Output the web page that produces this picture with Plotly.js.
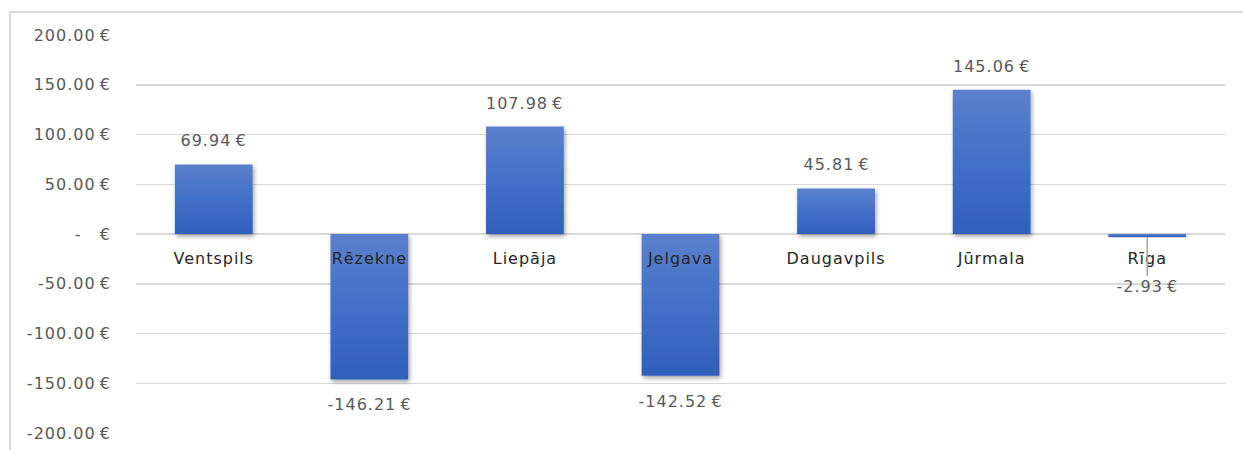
<!DOCTYPE html>
<html>
<head>
<meta charset="utf-8">
<script src="https://cdn.plot.ly/plotly-3.0.1.min.js"></script>
<style>
  html, body { margin: 0; padding: 0; background: #fff; }
  #frame { position: absolute; left: 9px; top: 11px; width: 1300px; height: 500px;
           border-left: 2px solid #d9d9d9; border-top: 2px solid #d9d9d9; }
  #chart { position: absolute; left: 0; top: 0; width: 1243px; height: 450px; }
  #chart svg text { letter-spacing: 1px; }
</style>
</head>
<body>
<div id="frame"></div>
<div id="chart"></div>
<script>
const cities = ["Ventspils", "Rēzekne", "Liepāja", "Jelgava", "Daugavpils", "Jūrmala", "Rīga"];
const values = [69.94, -146.21, 107.98, -142.52, 45.81, 145.06, -2.93];
const yTickVals = [200, 150, 100, 50, 0, -50, -100, -150, -200];
const yTickText = ["200.00\u2009€", "150.00\u2009€", "100.00\u2009€", "50.00\u2009€",
                   "-\u00a0\u00a0\u00a0€",
                   "-50.00\u2009€", "-100.00\u2009€", "-150.00\u2009€", "-200.00\u2009€"];

const FONT = "'DejaVu Sans', sans-serif";
const fmt = v => v.toFixed(2) + "\u2009€";

const annotations = cities.map((c, i) => {
  const v = values[i];
  const base = { x: c, y: v, xref: "x", yref: "y", text: fmt(v),
                 font: { family: FONT, size: 16, color: "#595959" } };
  if (Math.abs(v) < 10) {
    return Object.assign(base, { showarrow: true, arrowhead: 0, arrowwidth: 1.5,
      arrowcolor: "#a6a6a6", ax: 0, ay: 50, standoff: 0 });
  }
  if (v >= 0) return Object.assign(base, { showarrow: false, yanchor: "bottom", yshift: 12 });
  return Object.assign(base, { showarrow: false, yanchor: "top", yshift: -14 });
});

const trace = {
  type: "bar", x: cities, y: values,
  marker: { color: "#4270c6", line: { width: 0 } },
  hoverinfo: "skip"
};

const layout = {
  width: 1243, height: 450,
  margin: { l: 136, r: 18, t: 35, b: 17 },
  paper_bgcolor: "rgba(0,0,0,0)", plot_bgcolor: "rgba(0,0,0,0)",
  bargap: 0.5,
  showlegend: false,
  xaxis: {
    anchor: "free", position: 0.5,
    showline: false, showgrid: false, zeroline: false, ticks: "",
    ticklabelstandoff: 13,
    tickfont: { family: FONT, size: 16, color: "#262626" }
  },
  yaxis: {
    range: [-200, 200], tickvals: yTickVals, ticktext: yTickText,
    showgrid: true, gridcolor: "#d9d9d9", gridwidth: 1.5, zeroline: false,
    showline: false, ticks: "", ticklabelstandoff: 24,
    tickfont: { family: FONT, size: 16, color: "#595959" }
  },
  annotations: annotations
};

Plotly.newPlot("chart", [trace], layout, { staticPlot: true, displayModeBar: false }).then(gd => {
  const svg = gd.querySelector("svg.main-svg");
  const ns = "http://www.w3.org/2000/svg";
  let defs = svg.querySelector("defs");
  const grad = document.createElementNS(ns, "linearGradient");
  grad.setAttribute("id", "barGrad");
  grad.setAttribute("x1", "0"); grad.setAttribute("y1", "0");
  grad.setAttribute("x2", "0"); grad.setAttribute("y2", "1");
  [["0", "#5b80cc"], ["0.5", "#4170c8"], ["1", "#2f5fbc"]].forEach(([o, c]) => {
    const s = document.createElementNS(ns, "stop");
    s.setAttribute("offset", o); s.setAttribute("stop-color", c);
    grad.appendChild(s);
  });
  defs.appendChild(grad);
  const filt = document.createElementNS(ns, "filter");
  filt.setAttribute("id", "barShadow");
  filt.setAttribute("x", "-20%"); filt.setAttribute("y", "-20%");
  filt.setAttribute("width", "140%"); filt.setAttribute("height", "140%");
  const ds = document.createElementNS(ns, "feDropShadow");
  ds.setAttribute("dx", "1.5"); ds.setAttribute("dy", "2.5");
  ds.setAttribute("stdDeviation", "2"); ds.setAttribute("flood-color", "#000");
  ds.setAttribute("flood-opacity", "0.35");
  filt.appendChild(ds);
  defs.appendChild(filt);
  gd.querySelectorAll(".barlayer .point path").forEach(p => {
    p.style.fill = "url(#barGrad)";
    p.setAttribute("filter", "url(#barShadow)");
  });
});
</script>
</body>
</html>
